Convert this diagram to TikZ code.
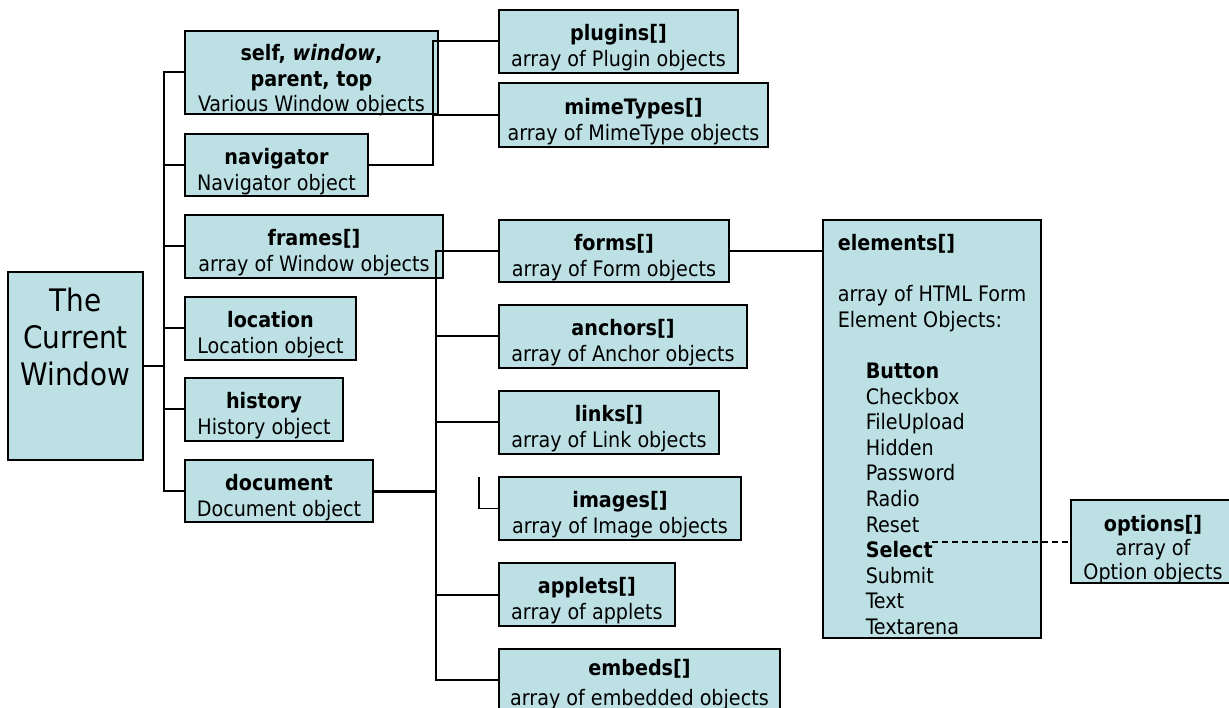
\documentclass[tikz,border=0pt]{standalone}
\usepackage{fontspec}
\setmainfont{DejaVu Sans Condensed}
\usepackage{xcolor}
\definecolor{Powder Blue}{HTML}{BCE0E4}
\colorlet{cBox}{Powder Blue}
\usepackage{tikz}
\usetikzlibrary{calc, positioning}
\newcommand\nudge[1]{\\[#1]}
\tikzset{
	line width = 2pt,
	font = \fontsize{21.3}{25.6}\selectfont,
	objbox/.style={
		draw,
		fill=cBox,
		line width=2pt,
		inner sep=0pt,
		align=center
	},
	link/.style={
		line width=2pt
	}
}

\begin{document}
\begin{tikzpicture}[x=1pt, y=-1pt]
		\useasboundingbox (0,0) rectangle (1229,708);

		\node[objbox, minimum width=135, minimum height=188, font=\fontsize{31}{37}\selectfont] at (75.5,366) (win) {The\\Current\\Window\nudge{21pt}};

		\node[objbox, minimum width=253, minimum height=83] at (311.5,72.5) (self) {\textbf{self, \textit{window},}\\\textbf{parent, top}\\Various Window objects\nudge{-37.2pt}};
		\node[objbox, minimum width=183, minimum height=62] at (276.5,165) (navigator) {\textbf{navigator}\\Navigator object\nudge{-34pt}};
		\node[objbox, minimum width=258, minimum height=63] at (314,246.5) (frames) {\textbf{frames[]}\\array of Window objects\nudge{-34pt}};
		\node[objbox, minimum width=171, minimum height=63] at (270.5,328.5) (location) {\textbf{location}\\Location object\nudge{-34pt}};
		\node[objbox, minimum width=158, minimum height=63] at (264,409.5) (history) {\textbf{history}\\History object\nudge{-34pt}};
		\node[objbox, minimum width=188, minimum height=62] at (279,491) (document) {\textbf{document}\\Document object\nudge{-34pt}};

		\node[objbox, minimum width=239, minimum height=63] at (618.5,41.5) (plugins) {\textbf{plugins[]}\\array of Plugin objects\nudge{-34pt}};
		\node[objbox, minimum width=269, minimum height=64] at (633.5,115) (mimetypes) {\textbf{mimeTypes[]}\\array of MimeType objects\nudge{-34pt}};

		\node[objbox, minimum width=230, minimum height=62] at (614,251) (forms) {\textbf{forms[]}\\array of Form objects\nudge{-34pt}};
		\node[objbox, minimum width=248, minimum height=63] at (623,336.5) (anchors) {\textbf{anchors[]}\\array of Anchor objects\nudge{-34pt}};
		\node[objbox, minimum width=220, minimum height=63] at (609,422.5) (links) {\textbf{links[]}\\array of Link objects\nudge{-34pt}};
		\node[objbox, minimum width=242, minimum height=63] at (620,508.5) (images) {\textbf{images[]}\\array of Image objects\nudge{-34pt}};
		\node[objbox, minimum width=176, minimum height=63] at (587,594.5) (applets) {\textbf{applets[]}\\array of applets\nudge{-34pt}};
		\node[objbox, minimum width=281, minimum height=63] at (639.5,680) (embeds) {\textbf{embeds[]}\\[4pt]array of embedded objects\nudge{-30pt}};

		\node[objbox, align=left, minimum width=218, minimum height=418] at (932,429) (elements) {\textbf{elements[]}\\\mbox{}\\array of HTML Form\\Element Objects:\\\mbox{}\\
			\hspace*{28pt}\textbf{Button}\\\hspace*{28pt}Checkbox\\\hspace*{28pt}FileUpload\\\hspace*{28pt}Hidden\\
			\hspace*{28pt}Password\\\hspace*{28pt}Radio\\\hspace*{28pt}Reset\\\hspace*{28pt}\textbf{Select}\\
			\hspace*{28pt}Submit\\\hspace*{28pt}Text\\\hspace*{28pt}Textarena\nudge{-36.6pt}};
		\node[objbox, minimum width=164, minimum height=83, font=\fontsize{21.3}{24}\selectfont] at (1153,541.5) (options) {\textbf{options[]}\\array of\\Option objects\nudge{-36pt}};

		% trunks
		\coordinate (tr) at (164,0);
		\coordinate (nv) at (433,0);
		\coordinate (fr) at (436,0);
		\coordinate (imgstub) at (479,477);
		\coordinate (sel) at (932,541.5);

		\draw[link] (self.west) -- (self.west -| tr) -- (document.west -| tr) -- (document.west);
		\foreach \n in {win} \draw[link] (\n.east) -- (\n.east -| tr);
		\foreach \n in {navigator, frames, location, history} \draw[link] (\n.west) -- (\n.west -| tr);

		\draw[link] (navigator.east) -| (nv |- plugins.west) -- (plugins.west);
		\draw[link] (mimetypes.west) -- (mimetypes.west -| nv);

		\draw[link] (forms.west) -| (fr |- embeds.west) -- (embeds.west);
		\foreach \n in {anchors, links, applets} \draw[link] (\n.west) -- (\n.west -| fr);
		\draw[link, line width=3pt] (document.east) -- (document.east -| fr);
		\draw[link, line width=1.6pt] (images.west) -| (imgstub);

		\draw[link] (forms.east) -- (elements.west |- forms.east);
		\draw[link, dash pattern=on 6pt off 4pt] (sel) -- (options.west);
	\end{tikzpicture}
\end{document}
